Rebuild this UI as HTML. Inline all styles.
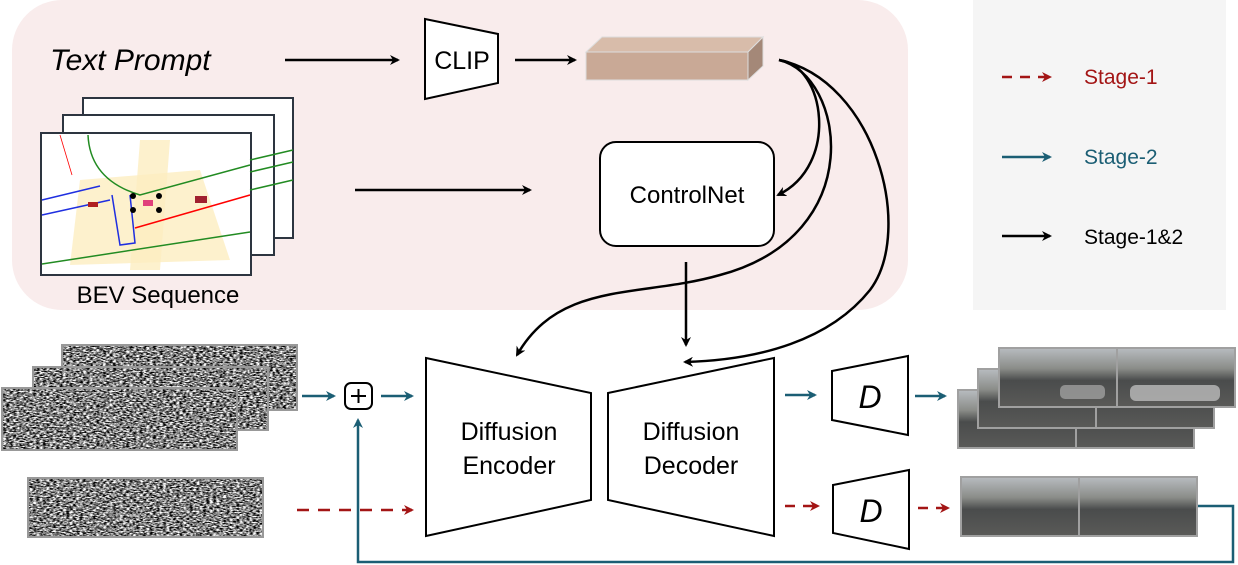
<!DOCTYPE html>
<html><head><meta charset="utf-8"><style>
html,body{margin:0;padding:0;background:#fff}
svg{display:block}
text{font-family:"Liberation Sans",sans-serif}
</style></head><body>
<svg width="1238" height="565" viewBox="0 0 1238 565" xmlns="http://www.w3.org/2000/svg">
<defs>
<filter id="noise" x="0" y="0" width="100%" height="100%" color-interpolation-filters="sRGB">
<feTurbulence type="fractalNoise" baseFrequency="0.3 0.8" numOctaves="2" seed="3"/>
<feColorMatrix type="matrix" values="2.6 0 0 0 -0.8  2.6 0 0 0 -0.8  2.6 0 0 0 -0.8  0 0 0 0 1"/>
</filter>
<marker id="ab" markerWidth="10" markerHeight="10" refX="8" refY="5" orient="auto" markerUnits="userSpaceOnUse"><path d="M0,0 L10,5 L0,10 L3,5 z" fill="#000"/></marker>
<marker id="at" markerWidth="10" markerHeight="10" refX="8" refY="5" orient="auto" markerUnits="userSpaceOnUse"><path d="M0,0 L10,5 L0,10 L3,5 z" fill="#1b5e74"/></marker>
<marker id="ar" markerWidth="10" markerHeight="10" refX="8" refY="5" orient="auto" markerUnits="userSpaceOnUse"><path d="M0,0 L10,5 L0,10 L3,5 z" fill="#a31515"/></marker>
<linearGradient id="photo" x1="0" y1="0" x2="0" y2="1">
<stop offset="0" stop-color="#b8bcc0"/><stop offset="0.35" stop-color="#8a8c88"/><stop offset="0.55" stop-color="#4a4c4c"/><stop offset="1" stop-color="#5a5a58"/>
</linearGradient>
</defs>
<rect x="12" y="0" width="896" height="310" rx="50" fill="#f9ecec"/>
<rect x="973" y="0" width="253" height="310" fill="#f5f5f5"/>

<text x="50" y="70" font-size="30" font-style="italic">Text Prompt</text>
<line x1="285" y1="60" x2="398" y2="60" stroke="#000" stroke-width="2.5" marker-end="url(#ab)"/>
<polygon points="425,19 498,34 498,83 425,99" fill="#fff" stroke="#000" stroke-width="2"/>
<text x="462" y="69" font-size="25" text-anchor="middle">CLIP</text>
<line x1="515" y1="60" x2="575" y2="60" stroke="#000" stroke-width="2.5" marker-end="url(#ab)"/>
<polygon points="586,52 602,37 763,37 748,52" fill="#d8bcaa" stroke="#ddd"/>
<polygon points="748,52 763,37 763,66 748,80" fill="#a48878" stroke="#ddd"/>
<rect x="586" y="52" width="162" height="28" fill="#c9a996" stroke="#ddd"/>

<g stroke="#2d3540" stroke-width="2" fill="#fff">
<rect x="83" y="98" width="210" height="140"/>
<rect x="63" y="115" width="211" height="140"/>
<rect x="41" y="133" width="210" height="142"/>
</g>
<g>
<polygon points="80,180 200,170 230,260 70,265" fill="#fdeec0" opacity="0.8"/>
<polygon points="140,140 170,140 160,270 130,270" fill="#fdeec0" opacity="0.8"/>
<path d="M42,264 L250,232" stroke="#228b22" stroke-width="1.5"/>
<path d="M42,215 L110,200 M42,200 L100,186" stroke="#1f2fe0" stroke-width="1.5"/>
<path d="M112,195 L120,245 L135,243 L130,195" stroke="#1f2fe0" stroke-width="1.5" fill="none"/>
<path d="M135,228 L250,195" stroke="#f00" stroke-width="1.5"/>
<path d="M88,135 Q90,180 140,195 L250,165" stroke="#228b22" stroke-width="1.5" fill="none"/>
<path d="M60,135 L72,175" stroke="#f00" stroke-width="0.8"/>
<path d="M250,190 L293,180 M250,160 L293,150 M250,172 L293,162" stroke="#228b22" stroke-width="1.5"/>
<rect x="143" y="200" width="10" height="6" fill="#e0407a"/>
<rect x="88" y="202" width="10" height="5" fill="#b02020"/>
<rect x="195" y="196" width="12" height="7" fill="#a02030"/>
<g fill="#000"><circle cx="133" cy="196" r="3"/><circle cx="159" cy="196" r="3"/><circle cx="133" cy="210" r="3"/><circle cx="159" cy="210" r="3"/></g>
</g>
<text x="158" y="303" font-size="24" text-anchor="middle">BEV Sequence</text>
<line x1="355" y1="190" x2="530" y2="190" stroke="#000" stroke-width="2.5" marker-end="url(#ab)"/>
<rect x="600" y="142" width="174" height="104" rx="16" fill="#fff" stroke="#000" stroke-width="2"/>
<text x="687" y="203" font-size="24" text-anchor="middle">ControlNet</text>

<g fill="none" stroke="#000" stroke-width="2.5">
<path d="M779,60 C825,65 840,165 778,195" marker-end="url(#ab)"/>
<path d="M779,60 C845,75 870,235 720,275 C640,298 560,280 517,355" marker-end="url(#ab)"/>
<path d="M779,60 C875,80 915,230 870,290 C830,340 760,360 685,362" marker-end="url(#ab)"/>
<line x1="686" y1="262" x2="686" y2="345" marker-end="url(#ab)"/>
</g>

<g stroke="#999" stroke-width="2">
<rect x="62" y="345" width="235" height="65" fill="#777" filter="url(#noise)"/>
<rect x="62" y="345" width="235" height="65" fill="none"/>
<rect x="33" y="367" width="235" height="63" fill="#777" filter="url(#noise)"/>
<rect x="33" y="367" width="235" height="63" fill="none"/>
<rect x="2" y="388" width="235" height="62" fill="#777" filter="url(#noise)"/>
<rect x="2" y="388" width="235" height="62" fill="none"/>
<rect x="28" y="478" width="235" height="59" fill="#777" filter="url(#noise)"/>
<rect x="28" y="478" width="235" height="59" fill="none"/>
</g>

<line x1="302" y1="396" x2="334" y2="396" stroke="#1b5e74" stroke-width="2.5" marker-end="url(#at)"/>
<rect x="345" y="383" width="27" height="26" rx="6" fill="#fff" stroke="#000" stroke-width="2"/>
<path d="M351,396 H366 M358.5,389 V403" stroke="#000" stroke-width="2"/>
<line x1="381" y1="396" x2="412" y2="396" stroke="#1b5e74" stroke-width="2.5" marker-end="url(#at)"/>

<polygon points="426,358 591,393 591,500 426,536" fill="#fff" stroke="#000" stroke-width="2"/>
<polygon points="608,393 774,358 774,536 608,500" fill="#fff" stroke="#000" stroke-width="2"/>
<text x="509" y="440" font-size="25" text-anchor="middle">Diffusion</text>
<text x="509" y="474" font-size="25" text-anchor="middle">Encoder</text>
<text x="691" y="440" font-size="25" text-anchor="middle">Diffusion</text>
<text x="691" y="474" font-size="25" text-anchor="middle">Decoder</text>

<line x1="785" y1="395" x2="815" y2="395" stroke="#1b5e74" stroke-width="2.5" marker-end="url(#at)"/>
<polygon points="832,371 908,356 908,435 832,420" fill="#fff" stroke="#000" stroke-width="2"/>
<text x="870" y="408" font-size="32" font-style="italic" font-family="Liberation Serif,serif" text-anchor="middle">D</text>
<line x1="915" y1="396" x2="945" y2="396" stroke="#1b5e74" stroke-width="2.5" marker-end="url(#at)"/>

<line x1="297" y1="510" x2="412" y2="510" stroke="#a31515" stroke-width="2.5" stroke-dasharray="12,9" marker-end="url(#ar)"/>
<line x1="785" y1="506" x2="818" y2="506" stroke="#a31515" stroke-width="2.5" stroke-dasharray="10,8" marker-end="url(#ar)"/>
<polygon points="833,485 909,470 909,549 833,533" fill="#fff" stroke="#000" stroke-width="2"/>
<text x="871" y="522" font-size="32" font-style="italic" font-family="Liberation Serif,serif" text-anchor="middle">D</text>
<line x1="918" y1="508" x2="948" y2="508" stroke="#a31515" stroke-width="2.5" stroke-dasharray="10,8" marker-end="url(#ar)"/>

<g stroke="#a0a0a0" stroke-width="2">
<rect x="958" y="390" width="236" height="58" fill="url(#photo)"/>
<rect x="978" y="369" width="236" height="59" fill="url(#photo)"/>
<rect x="999" y="348" width="236" height="59" fill="url(#photo)"/>
<line x1="1117" y1="348" x2="1117" y2="407"/>
<line x1="1096" y1="428" x2="1096" y2="407"/>
<line x1="1076" y1="448" x2="1076" y2="428"/>
<rect x="961" y="477" width="236" height="59" fill="url(#photo)"/>
<line x1="1079" y1="477" x2="1079" y2="536"/>
</g>
<rect x="1130" y="385" width="90" height="16" rx="6" fill="#bbb" opacity="0.8"/>
<rect x="1060" y="385" width="45" height="14" rx="5" fill="#aaa" opacity="0.7"/>

<polyline points="1198,506 1233,506 1233,562 358,562 358,420" fill="none" stroke="#1b5e74" stroke-width="2.5" marker-end="url(#at)"/>

<line x1="1002" y1="77" x2="1050" y2="77" stroke="#a31515" stroke-width="2.5" stroke-dasharray="10,8" marker-end="url(#ar)"/>
<text x="1084" y="84" font-size="21" fill="#a31515">Stage-1</text>
<line x1="1002" y1="157" x2="1050" y2="157" stroke="#1b5e74" stroke-width="2.5" marker-end="url(#at)"/>
<text x="1084" y="164" font-size="21" fill="#1b5e74">Stage-2</text>
<line x1="1002" y1="236" x2="1050" y2="236" stroke="#000" stroke-width="2.5" marker-end="url(#ab)"/>
<text x="1084" y="244" font-size="21">Stage-1&amp;2</text>
</svg>
</body></html>
